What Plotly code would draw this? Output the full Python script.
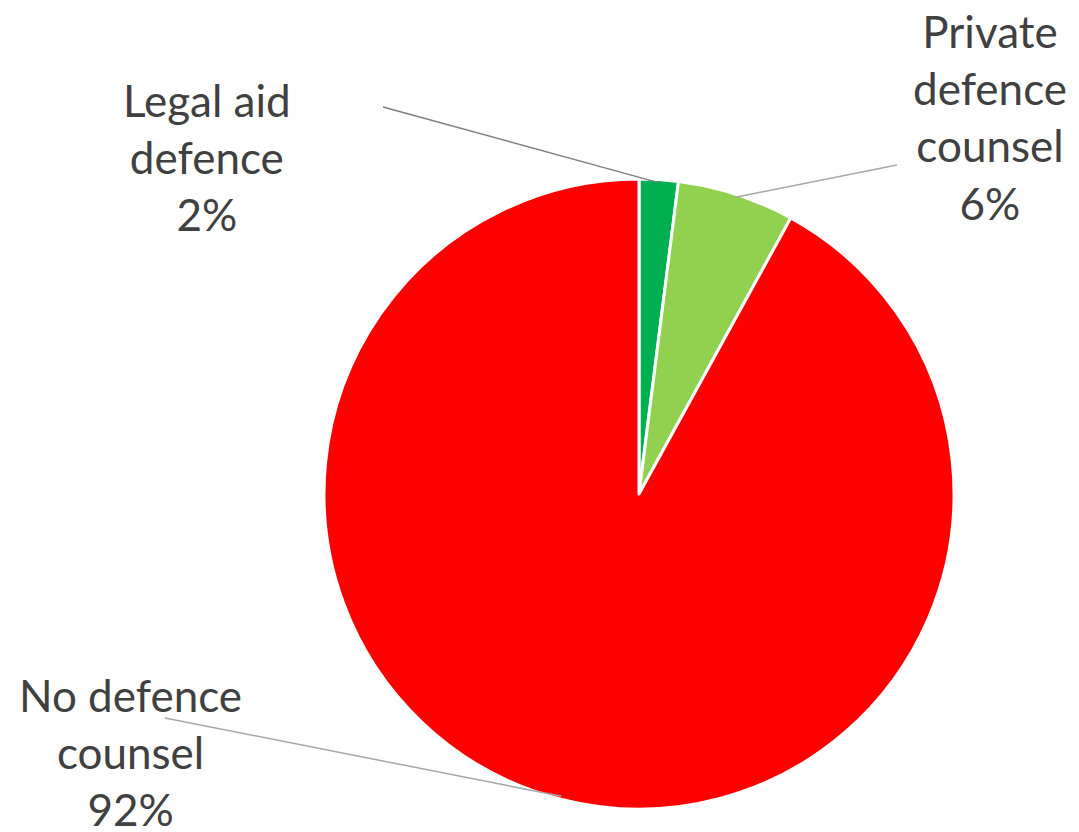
import math
import plotly.graph_objects as go

labels = ["Legal aid defence", "Private defence counsel", "No defence counsel"]
values = [2, 6, 92]
colors = ["#00B050", "#92D050", "#FF0000"]
label_texts = ["Legal aid<br>defence<br>2%", "Private<br>defence<br>counsel<br>6%", "No defence<br>counsel<br>92%"]
label_pos = [(207, 157), (990, 117), (130, 752)]      # label block centres (px, page)
line_anchor = [(383, 107), (897, 165), (165, 718)]    # leader-line outer ends (px, page)
line_colors = ["#7F7F7F", "#A6A6A6", "#A6A6A6"]

W, H = 1079, 832
OFF = 8  # default page body margin
cx, cy, R = 639, 494, 315

def px2paper(x, y):
    return (x - OFF) / W, 1 - (y - OFF) / H

dx0, dy1 = px2paper(cx - R, cy - R)
dx1, dy0 = px2paper(cx + R, cy + R)

fig = go.Figure(go.Pie(
    labels=labels, values=values, sort=False, direction="clockwise", rotation=0,
    marker=dict(colors=colors, line=dict(color="white", width=3)),
    textinfo="none", hoverinfo="label+percent", showlegend=False,
    domain=dict(x=[dx0, dx1], y=[dy0, dy1]),
))

total = sum(values)
cum = 0
shapes, annots = [], []
for i, v in enumerate(values):
    mid = (cum + v / 2) / total * 2 * math.pi
    cum += v
    r = R - 3
    ex, ey = cx + r * math.sin(mid), cy - r * math.cos(mid)
    x0, y0 = px2paper(*line_anchor[i])
    x1, y1 = px2paper(ex, ey)
    shapes.append(dict(type="line", xref="paper", yref="paper", x0=x0, y0=y0, x1=x1, y1=y1,
                       line=dict(color=line_colors[i], width=1.5)))
    lx, ly = px2paper(*label_pos[i])
    annots.append(dict(text=label_texts[i], x=lx, y=ly, xref="paper", yref="paper",
                       showarrow=False, xanchor="center", yanchor="middle", align="center",
                       font=dict(family="Lato", size=44, color="#404040")))

fig.update_layout(width=W, height=H, margin=dict(l=0, r=0, t=0, b=0),
                  paper_bgcolor="white", plot_bgcolor="white",
                  shapes=shapes, annotations=annots)
fig.write_html("out.html")
